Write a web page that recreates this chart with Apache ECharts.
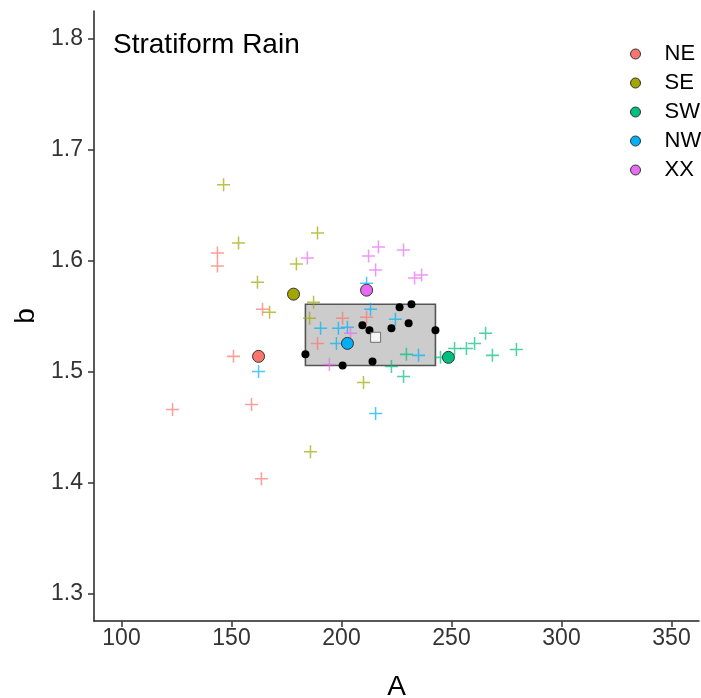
<!DOCTYPE html>
<html>
<head>
<meta charset="utf-8">
<script src="https://cdn.jsdelivr.net/npm/echarts@6/dist/echarts.min.js"></script>
<style>
html,body{margin:0;padding:0;background:#fff;}
#chart{width:701px;height:698px;}
</style>
</head>
<body>
<div id="chart"></div>
<script>
// ---- data ----
const groups = ['NE', 'SE', 'SW', 'NW', 'XX'];
const groupColors = ['#F8766D', '#A3A500', '#00BF7D', '#00B0F6', '#E76BF3'];

const nePts = [[143.6,1.6068],[143.6,1.5950],[150.9,1.5136],[164.1,1.5561],[159.1,1.4701],
               [123.2,1.4656],[163.6,1.4032],[200.5,1.5480],[211.4,1.5489],[189.1,1.5253]];
const sePts = [[146.4,1.6683],[153.2,1.6158],[179.5,1.5968],[161.8,1.5805],[167.3,1.5534],
               [189.1,1.6249],[187.3,1.5624],[185.5,1.5480],[210.0,1.4900],[185.9,1.4276]];
const swPts = [[229.5,1.5154],[222.7,1.5045],[228.2,1.4955],[245.0,1.5127],[251.4,1.5208],
               [256.8,1.5208],[260.5,1.5253],[265.5,1.5344],[268.6,1.5145],[279.5,1.5199]];
const nwPts = [[162.3,1.5000],[215.5,1.4620],[213.2,1.5561],[224.5,1.5471],[190.5,1.5389],
               [198.6,1.5389],[202.7,1.5398],[197.7,1.5253],[235.0,1.5145],[211.4,1.5796]];
const xxPts = [[184.5,1.6023],[212.3,1.6041],[216.8,1.6122],[228.2,1.6095],[215.5,1.5914],
               [233.2,1.5842],[236.4,1.5869],[194.5,1.5063],[204.1,1.5344]];

const groupMeans = [[162.3,1.5136],[178.2,1.5697],[248.6,1.5127],[202.7,1.5253],[211.4,1.5733]];

const blackPts = [[226.4,1.5579],[231.8,1.5606],[209.5,1.5416],[212.7,1.5371],[222.7,1.5389],
                  [230.5,1.5434],[242.7,1.5371],[183.6,1.5154],[200.5,1.5054],[214.1,1.5090]];
const centerPt = [215.5, 1.5308];

const xTicks = [100, 150, 200, 250, 300, 350];
const yTicks = [1.3, 1.4, 1.5, 1.6, 1.7, 1.8];
const xLimits = [87.5, 362.5];
const yLimits = [1.275, 1.825];
const titleText = 'Stratiform Rain';

// ---- chart ----
const groupPts = [nePts, sePts, swPts, nwPts, xxPts];
const boxData = [[
  Math.min(...blackPts.map(p => p[0])), Math.min(...blackPts.map(p => p[1])),
  Math.max(...blackPts.map(p => p[0])), Math.max(...blackPts.map(p => p[1]))
]];

const FONT = '"Liberation Sans", Arial, Helvetica, sans-serif';
const plusPath = 'path://M5.3,0H6.7V5.3H12V6.7H6.7V12H5.3V6.7H0V5.3H5.3Z';

const series = [];
series.push({
  type: 'custom', name: 'box', silent: true, z: 1,
  data: boxData,
  encode: { x: [0, 2], y: [1, 3] },
  renderItem: function (params, api) {
    const p1 = api.coord([api.value(0), api.value(3)]);
    const p2 = api.coord([api.value(2), api.value(1)]);
    return {
      type: 'rect',
      shape: { x: p1[0], y: p1[1], width: p2[0] - p1[0], height: p2[1] - p1[1] },
      style: { fill: '#CCCCCC', stroke: '#555555', lineWidth: 1.6 }
    };
  }
});
groups.forEach((g, i) => {
  series.push({
    type: 'scatter', name: g + ' pts', data: groupPts[i], z: 2, silent: true,
    symbol: plusPath, symbolSize: 13,
    itemStyle: { color: groupColors[i], opacity: 0.7 }
  });
});
series.push({
  type: 'scatter', name: 'dots', data: blackPts, z: 3, silent: true,
  symbol: 'circle', symbolSize: 8, itemStyle: { color: '#000', opacity: 1 }
});
series.push({
  type: 'scatter', name: 'center', data: [centerPt], z: 4, silent: true,
  symbol: 'rect', symbolSize: 10, itemStyle: { color: '#fff', borderColor: '#555', borderWidth: 1 }
});
groups.forEach((g, i) => {
  series.push({
    type: 'scatter', name: g, data: [groupMeans[i]], z: 5, silent: true,
    symbol: 'circle', symbolSize: 12,
    itemStyle: { color: groupColors[i], borderColor: '#333', borderWidth: 1, opacity: 1 }
  });
});

const chart = echarts.init(document.getElementById('chart'), null, { renderer: 'canvas' });
chart.setOption({
  animation: false,
  backgroundColor: '#fff',
  title: {
    text: titleText, left: 108, top: 26, padding: 5,
    textStyle: { fontFamily: FONT, fontSize: 28, fontWeight: 'normal', color: '#000' }
  },
  legend: {
    orient: 'vertical', left: 625, top: 38,
    itemWidth: 10, itemHeight: 10, itemGap: 7,
    data: groups.map((g, i) => ({
      name: g, icon: 'circle',
      itemStyle: { color: groupColors[i], borderColor: '#333', borderWidth: 1 }
    })),
    textStyle: { fontFamily: FONT, fontSize: 22, color: '#000', lineHeight: 22, padding: [0, 0, 0, 19] },
    selectedMode: false
  },
  grid: { left: 94, right: 2, top: 11, bottom: 77, containLabel: false, outerBoundsMode: 'none' },
  xAxis: {
    type: 'value', min: xLimits[0], max: xLimits[1],
    name: 'A', nameLocation: 'middle', nameGap: 52,
    nameTextStyle: { fontFamily: FONT, fontSize: 28, color: '#000' },
    axisLine: { show: true, onZero: false, lineStyle: { color: '#222', width: 1.5 } },
    axisTick: { show: true, length: 6, customValues: xTicks, lineStyle: { color: '#333', width: 1.5 } },
    axisLabel: { customValues: xTicks, margin: 6, fontFamily: FONT, fontSize: 23, color: '#333' },
    splitLine: { show: false }
  },
  yAxis: {
    type: 'value', min: yLimits[0], max: yLimits[1],
    name: 'b', nameLocation: 'middle', nameGap: 52,
    nameTextStyle: { fontFamily: FONT, fontSize: 28, color: '#000' },
    axisLine: { show: true, onZero: false, lineStyle: { color: '#222', width: 1.5 } },
    axisTick: { show: true, length: 6, customValues: yTicks, lineStyle: { color: '#333', width: 1.5 } },
    axisLabel: { customValues: yTicks, margin: 11, fontFamily: FONT, fontSize: 23, color: '#333',
                 formatter: v => v.toFixed(1) },
    splitLine: { show: false }
  },
  series: series
});
</script>
</body>
</html>
